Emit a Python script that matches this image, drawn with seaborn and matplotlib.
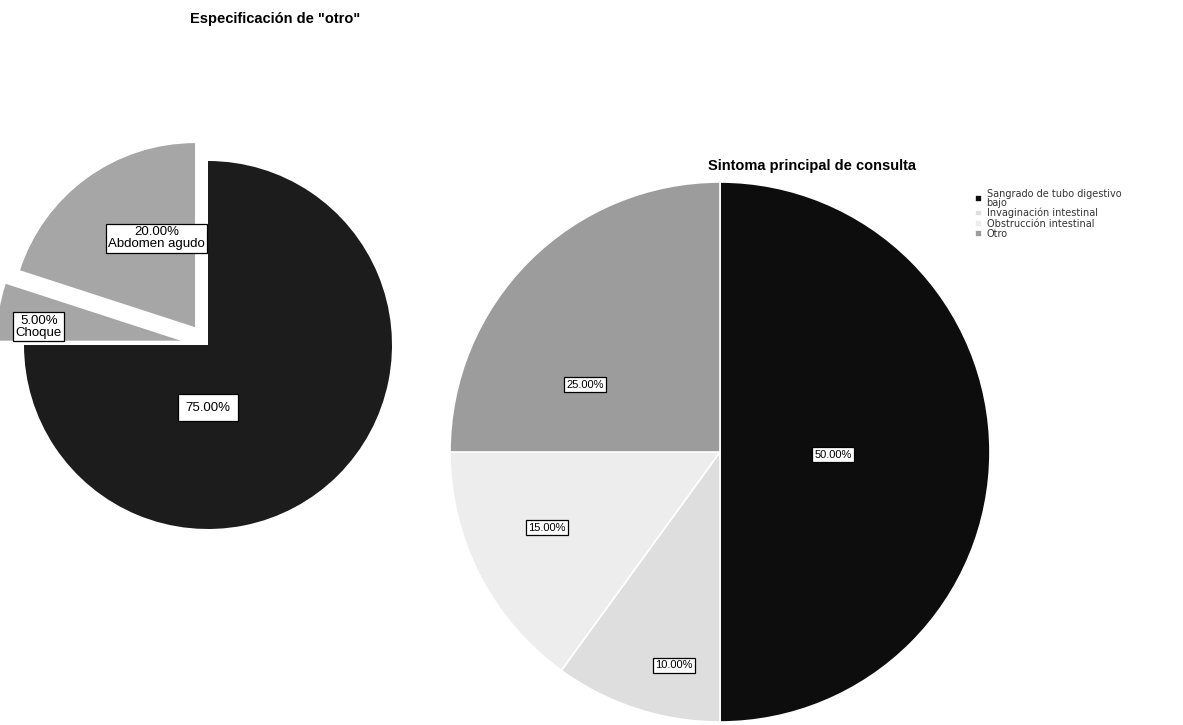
import matplotlib
matplotlib.use("Agg")
import matplotlib.pyplot as plt
import seaborn as sns

# datos: especificacion de "otro"
otro_etiquetas = ["Abdomen agudo", "Choque", ""]
otro_valores = [20.0, 5.0, 75.0]
otro_colores = ["#a6a6a6", "#a6a6a6", "#1c1c1c"]

# datos: sintoma principal de consulta
sintoma_categorias = ["Sangrado de tubo digestivo\nbajo", "Invaginación intestinal",
                      "Obstrucción intestinal", "Otro"]
sintoma_valores = [50.0, 10.0, 15.0, 25.0]
sintoma_colores = ["#0d0d0d", "#dedede", "#ededed", "#9c9c9c"]

sns.set_theme(style="white")
plt.rcParams['font.family'] = ['Liberation Sans', 'DejaVu Sans']
plt.rcParams['text.color'] = 'black'

W, H = 1183, 725
fig = plt.figure(figsize=(W / 100, H / 100), dpi=100)


def eje_pie(cx, cy, r, lim):
    # coloca un eje cuadrado en pixeles para que el radio 1 mida r px
    half = r * lim
    return fig.add_axes([(cx - half) / W, 1 - (cy + half) / H, 2 * half / W, 2 * half / H])


# --- pie izquierdo ---
ax1 = eje_pie(208, 345, 184, 1.25)
orden = [2, 1, 0]  # 75 primero, en sentido horario desde las 12
vals1 = [otro_valores[i] for i in orden]
cols1 = [otro_colores[i] for i in orden]
wedges1, _ = ax1.pie(vals1, colors=cols1, startangle=90, counterclock=False,
                     explode=[0, 0.15, 0.12], radius=1,
                     wedgeprops=dict(edgecolor="none"))
ax1.set_xlim(-1.25, 1.25)
ax1.set_ylim(-1.25, 1.25)
ax1.set_aspect("equal")
ax1.axis("off")

pos1 = {0: (-0.28, 0.58), 1: (-0.92, 0.10), 2: (0.0, -0.34)}
pads1 = {0: 0.18, 1: 0.18, 2: 0.6}
for i, v in enumerate(otro_valores):
    txt = f"{v:.2f}%"
    if otro_etiquetas[i]:
        txt += "\n" + otro_etiquetas[i]
    x, y = pos1[i]
    ax1.text(x, y, txt, ha="center", va="center", fontsize=9.5, linespacing=1.0,
             color="black", clip_on=False,
             bbox=dict(boxstyle=f"square,pad={pads1[i]}", fc="white", ec="black", lw=0.9))

fig.text(275 / W, 1 - 19 / H, 'Especificación de "otro"', ha="center", va="center",
         fontsize=10.5, fontweight="bold", color="black")

# --- pie derecho ---
ax2 = eje_pie(720, 452, 270, 1.05)
wedges2, _ = ax2.pie(sintoma_valores, colors=sintoma_colores, startangle=90,
                     counterclock=False, radius=1,
                     wedgeprops=dict(edgecolor="white", linewidth=1.2))
ax2.set_xlim(-1.05, 1.05)
ax2.set_ylim(-1.05, 1.05)
ax2.set_aspect("equal")
ax2.axis("off")

pos2 = [(0.42, -0.01), (-0.17, -0.79), (-0.64, -0.28), (-0.50, 0.25)]
for v, (x, y) in zip(sintoma_valores, pos2):
    ax2.text(x, y, f"{v:.2f}%", ha="center", va="center", fontsize=8,
             color="black",
             bbox=dict(boxstyle="square,pad=0.2", fc="white", ec="black", lw=0.9))

fig.text(812 / W, 1 - 166 / H, "Sintoma principal de consulta", ha="center",
         va="center", fontsize=10.5, fontweight="bold", color="black")

leg = fig.legend(wedges2, sintoma_categorias, loc="upper left",
                 bbox_to_anchor=(970 / W, 1 - 184 / H), frameon=False,
                 prop=dict(family="DejaVu Sans", size=7),
                 handlelength=0.7, handleheight=0.7, handletextpad=0.5,
                 labelspacing=0.02, borderpad=0)
for t in leg.get_texts():
    t.set_color("#333333")
    t.set_linespacing(0.85)

fig.savefig("out.png", dpi=100, facecolor="white")
